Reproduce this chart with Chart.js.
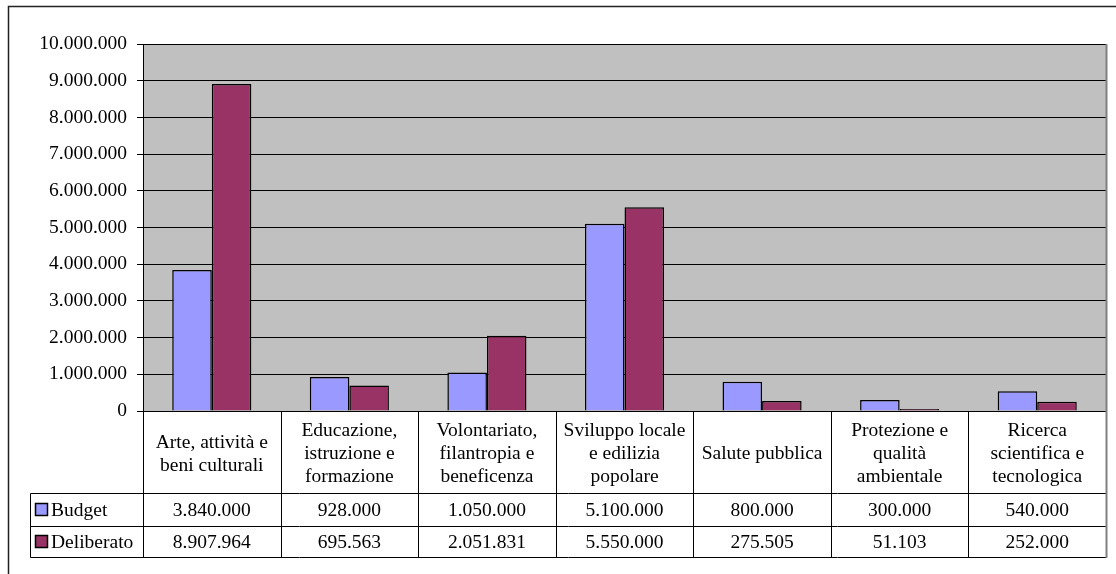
<!DOCTYPE html>
<html>
<head>
<meta charset="utf-8">
<script src="https://cdn.jsdelivr.net/npm/chart.js@4/dist/chart.umd.min.js"></script>
<style>
  body { margin: 0; background: #fff; }
  canvas { display: block; }
</style>
</head>
<body>
<canvas id="settori" width="1116" height="574"></canvas>
<script>
const categories = [
    ['Arte, attività e', 'beni culturali'],
    ['Educazione,', 'istruzione e', 'formazione'],
    ['Volontariato,', 'filantropia e', 'beneficenza'],
    ['Sviluppo locale', 'e edilizia', 'popolare'],
    'Salute pubblica',
    ['Protezione e', 'qualità', 'ambientale'],
    ['Ricerca', 'scientifica e', 'tecnologica']
]
const budget = [3840000, 928000, 1050000, 5100000, 800000, 300000, 540000]
const deliberato = [8907964, 695563, 2051831, 5550000, 275505, 51103, 252000]
const yTicks = [0, 1000000, 2000000, 3000000, 4000000, 5000000, 6000000, 7000000, 8000000, 9000000, 10000000]

const FONT = 'Liberation Serif'
const fmt = v => String(v).replace(/\B(?=(\d{3})+(?!\d))/g, '.')

// tabella dati sotto il grafico + cornice esterna
const tabella = {
    id: 'tabella',
    afterDraw(chart) {
        const ctx = chart.ctx
        const x = chart.scales.x
        const area = chart.chartArea
        const half = (x.getPixelForValue(1) - x.getPixelForValue(0)) / 2
        const bounds = []
        for (let i = 0; i <= categories.length; i++) {
            bounds.push(Math.round(x.getPixelForValue(0) - half + i * 2 * half) + 0.5)
        }
        const left = 30.5
        const rowTop = 493.5, rowMid = 526.5, rowBot = 557.5
        const top = Math.round(area.bottom) + 0.5

        ctx.save()
        // cornice
        ctx.strokeStyle = '#222'
        ctx.lineWidth = 1.5
        ctx.beginPath()
        ctx.moveTo(8.5, 580); ctx.lineTo(8.5, 6.5); ctx.lineTo(1120, 6.5)
        ctx.stroke()

        ctx.strokeStyle = '#000'
        ctx.lineWidth = 1
        ctx.beginPath()
        ;[rowTop, rowMid, rowBot].forEach(y => {
            ctx.moveTo(left, y); ctx.lineTo(bounds[bounds.length - 1], y)
        })
        ctx.moveTo(left, rowTop); ctx.lineTo(left, rowBot)
        bounds.slice(0, -1).forEach(b => {
            ctx.moveTo(b, top); ctx.lineTo(b, rowBot)
        })
        ctx.stroke()

        // bordo destro grigio
        ctx.strokeStyle = '#808080'
        ctx.lineWidth = 2
        ctx.beginPath()
        const r = bounds[bounds.length - 1]
        ctx.moveTo(r, area.top); ctx.lineTo(r, rowBot + 0.5)
        ctx.stroke()

        // righe della tabella
        const rows = [
            { name: 'Budget', data: budget, color: '#9999FF', y: (rowTop + rowMid) / 2 },
            { name: 'Deliberato', data: deliberato, color: '#993366', y: (rowMid + rowBot) / 2 }
        ]
        ctx.font = '19.5px "' + FONT + '"'
        ctx.fillStyle = '#000'
        ctx.textBaseline = 'middle'
        rows.forEach(row => {
            ctx.fillStyle = row.color
            ctx.fillRect(35.5, Math.round(row.y) - 6.5, 12, 12)
            ctx.strokeStyle = '#000'
            ctx.lineWidth = 1.5
            ctx.strokeRect(35.5, Math.round(row.y) - 6.5, 12, 12)
            ctx.fillStyle = '#000'
            ctx.textAlign = 'left'
            ctx.fillText(row.name, 51, row.y + 1)
            ctx.textAlign = 'center'
            row.data.forEach((v, i) => {
                ctx.fillText(fmt(v), x.getPixelForValue(i), row.y + 1)
            })
        })
        ctx.restore()
    }
}

const sfondo = {
    id: 'sfondo',
    beforeDraw(chart) {
        const { ctx, chartArea: a } = chart
        ctx.save()
        ctx.fillStyle = '#C0C0C0'
        ctx.fillRect(a.left, a.top, a.right - a.left, a.bottom - a.top)
        ctx.restore()
    }
}

new Chart(document.getElementById('settori').getContext('2d'), {
    type: 'bar',
    data: {
        labels: categories,
        datasets: [
            {
                label: 'Budget',
                data: budget,
                backgroundColor: '#9999FF',
                borderColor: '#000',
                borderWidth: 1.5
            },
            {
                label: 'Deliberato',
                data: deliberato,
                backgroundColor: '#993366',
                borderColor: '#000',
                borderWidth: 1.5
            }
        ]
    },
    options: {
        responsive: false,
        animation: false,
        layout: { padding: { top: 44, right: 10, bottom: 16, left: 0 } },
        datasets: { bar: { barPercentage: 1, categoryPercentage: 0.575 } },
        plugins: { legend: { display: false }, tooltip: { enabled: false } },
        scales: {
            x: {
                grid: { display: false },
                border: { display: true, color: '#000', width: 1 },
                afterFit: s => { s.height = 147 },
                ticks: {
                    color: '#000',
                    font: { family: FONT, size: 19.5, lineHeight: 1.18 },
                    autoSkip: false,
                    maxRotation: 0,
                    minRotation: 0,
                    crossAlign: 'center',
                    padding: 12
                }
            },
            y: {
                min: 0,
                max: 10000000,
                afterFit: s => { s.width = 143 },
                afterBuildTicks: s => { s.ticks = yTicks.map(v => ({ value: v })) },
                grid: { color: '#000', lineWidth: 1, tickLength: 6 },
                border: { color: '#000', width: 1 },
                ticks: {
                    color: '#000',
                    font: { family: FONT, size: 19.5 },
                    padding: 10,
                    callback: v => fmt(v)
                }
            }
        }
    },
    plugins: [sfondo, tabella]
})
</script>
</body>
</html>
